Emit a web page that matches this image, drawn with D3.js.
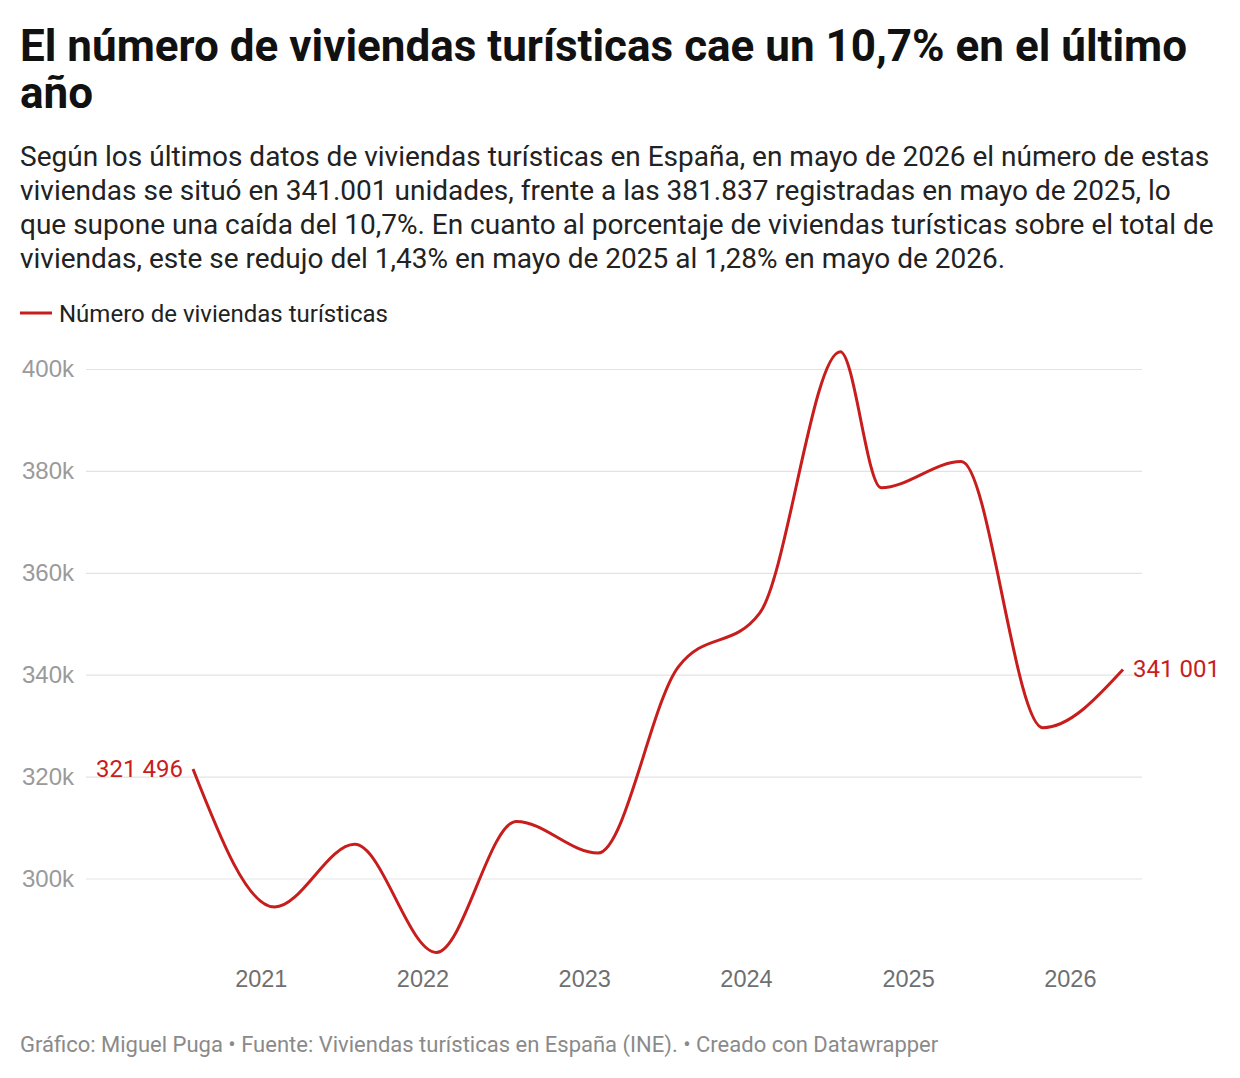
<!DOCTYPE html>
<html>
<head>
<meta charset="utf-8">
<script src="https://cdn.jsdelivr.net/npm/d3@7"></script>
<style>
  body { margin: 0; background: #fff; }
  svg { display: block; font-family: Roboto, "Noto Sans", sans-serif; }
  .title { font-weight: 700; fill: #111; }
  .subtitle { fill: #222; }
  .y-axis text { fill: #9a9a9a; }
  .x-axis text { fill: #6f6f6f; }
  .grid line { stroke: #e3e3e3; }
  .footer { fill: #8a8a8a; }
</style>
</head>
<body>
<svg id="chart" width="1240" height="1078"></svg>
<script>
// data (one reading every few months)
const dates = ["2020-08", "2021-02", "2021-08", "2022-02", "2022-08", "2023-02",
  "2023-08", "2024-02", "2024-08", "2024-11", "2025-05", "2025-11", "2026-05"];
const values = [321496, 294400, 306700, 285500, 311200, 305000,
  341500, 352100, 403400, 376700, 381837, 329600, 341001];
const yTicks = [300000, 320000, 340000, 360000, 380000, 400000];
const seriesName = "Número de viviendas turísticas";

const titleLines = ["El número de viviendas turísticas cae un 10,7% en el último", "año"];
const subtitleLines = [
  "Según los últimos datos de viviendas turísticas en España, en mayo de 2026 el número de estas",
  "viviendas se situó en 341.001 unidades, frente a las 381.837 registradas en mayo de 2025, lo",
  "que supone una caída del 10,7%. En cuanto al porcentaje de viviendas turísticas sobre el total de",
  "viviendas, este se redujo del 1,43% en mayo de 2025 al 1,28% en mayo de 2026."
];
const footerText = "Gráfico: Miguel Puga • Fuente: Viviendas turísticas en España (INE). • Creado con Datawrapper";

const red = "#c71e1d";
const parse = d3.timeParse("%Y-%m");
const data = dates.map((d, i) => ({ date: parse(d), value: values[i] }));

const svg = d3.select("#chart");

// header
const title = svg.append("text").attr("class", "title").attr("font-size", 44);
titleLines.forEach((t, i) => {
  title.append("tspan").attr("x", 20).attr("y", 61 + i * 47).text(t);
});
const sub = svg.append("text").attr("class", "subtitle").attr("font-size", 28);
subtitleLines.forEach((t, i) => {
  sub.append("tspan").attr("x", 20).attr("y", 166 + i * 34).text(t);
});

// legend
svg.append("line")
  .attr("x1", 20).attr("x2", 52).attr("y1", 313).attr("y2", 313)
  .attr("stroke", red).attr("stroke-width", 3);
svg.append("text")
  .attr("x", 59).attr("y", 322)
  .attr("font-size", 24).attr("fill", "#222")
  .text(seriesName);

// scales
const gridLeft = 86, gridRight = 1142;
const x = d3.scaleTime()
  .domain(d3.extent(data, d => d.date))
  .range([193, 1123]);
const y = d3.scaleLinear()
  .domain([300000, 400000])
  .range([878.5, 369]);

// y axis + grid
const yAxis = svg.append("g")
  .attr("class", "y-axis grid")
  .attr("transform", `translate(${gridLeft},0)`)
  .call(d3.axisLeft(y)
    .tickValues(yTicks)
    .tickSize(-(gridRight - gridLeft))
    .tickPadding(12)
    .tickFormat(d => d / 1000 + "k"));
yAxis.select(".domain").remove();
yAxis.selectAll("text").attr("font-size", 24).attr("font-family", null);
yAxis.selectAll("line").attr("stroke-width", 1.2);

// x axis
const xAxis = svg.append("g")
  .attr("class", "x-axis")
  .attr("transform", "translate(0,970)")
  .call(d3.axisBottom(x)
    .ticks(d3.timeYear.every(1))
    .tickSize(0)
    .tickPadding(0)
    .tickFormat(d3.timeFormat("%Y")));
xAxis.select(".domain").remove();
xAxis.selectAll("text").attr("font-size", 23.5).attr("font-family", null);

// line
const line = d3.line()
  .x(d => x(d.date))
  .y(d => y(d.value))
  .curve(d3.curveMonotoneX);
svg.append("path")
  .datum(data)
  .attr("fill", "none")
  .attr("stroke", red)
  .attr("stroke-width", 3)
  .attr("stroke-linejoin", "round")
  .attr("d", line);

// end labels
const fmt = d3.formatLocale({ decimal: ",", thousands: " ", grouping: [3], currency: ["", ""] }).format(",d");
const first = data[0], last = data[data.length - 1];
svg.append("text")
  .attr("x", x(first.date) - 10).attr("y", y(first.value))
  .attr("dy", "0.32em").attr("text-anchor", "end")
  .attr("font-size", 24).attr("fill", red)
  .text(fmt(first.value));
svg.append("text")
  .attr("x", x(last.date) + 10).attr("y", y(last.value))
  .attr("dy", "0.32em")
  .attr("font-size", 24).attr("fill", red)
  .text(fmt(last.value));

// footer
svg.append("text")
  .attr("class", "footer")
  .attr("x", 20).attr("y", 1052)
  .attr("font-size", 22)
  .text(footerText);
</script>
</body>
</html>
